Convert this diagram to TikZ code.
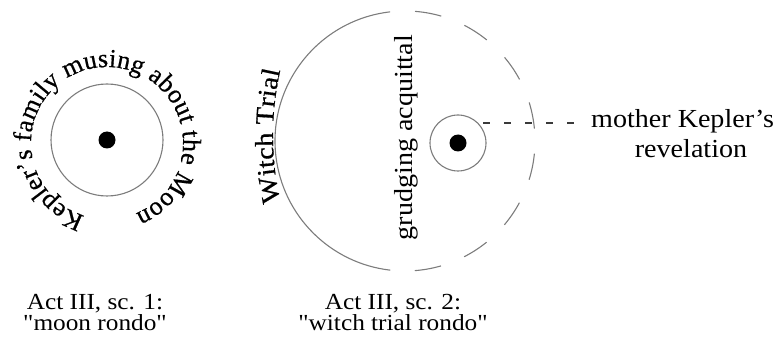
\documentclass[tikz,border=0pt]{standalone}
\usepackage{fontspec}
\setmainfont{Liberation Serif}
\newfontfamily\capfont[FakeStretch=1.1]{Liberation Serif}
\newfontfamily\widefont[FakeStretch=1.08]{Liberation Serif}
\newfontfamily\heavyfont[FakeBold=0.6]{Liberation Serif}
\newfontfamily\heavywidefont[FakeBold=0.6,FakeStretch=1.1]{Liberation Serif}
\newcommand\moonfont{\heavyfont\fontsize{26}{30}\selectfont}
\newcommand\trialfont{\heavywidefont\fontsize{26}{30}\selectfont}
\usetikzlibrary{decorations.text}
\definecolor{ringgray}{HTML}{7C7C7C}
\definecolor{dashgray}{HTML}{3A3A3A}
\begin{document}
\begin{tikzpicture}[x=1pt,y=1pt,
  ring/.style={circle, draw=ringgray, line width=1.1pt, inner sep=0pt},
  ringline/.style={draw=ringgray, line width=1.1pt},
  dot/.style={circle, fill=black, inner sep=0pt, minimum size=17pt},
  captext/.style={font=\capfont\fontsize{23}{21}\selectfont, align=center, inner sep=0pt},
  sidetext/.style={font=\widefont\fontsize{26}{30}\selectfont, inner sep=0pt},
  leader/.style={draw=dashgray, line width=2.2pt, dash pattern=on 6.5pt off 14.5pt, dash phase=16pt}]
\useasboundingbox (0,0) rectangle (775,340);
% left: moon rondo
\node[ring, minimum size=112pt] (lc) at (107,200) {};
\node[dot] (ld) at (107,200) {};
\path[decorate, decoration={text along path, text align={fit to path},
  text={|\moonfont|Kepler’s family musing about the Moon}}]
  (107,197) ++(253:76) arc[start angle=253, end angle=-68, radius=76];
% right: witch trial rondo
\coordinate (bc) at (405,199);
\draw[ringline] (bc) ++(96.6:130) arc[start angle=96.6, end angle=263.5, radius=130];
\draw[ringline, dash pattern=on 26.7pt off 25pt, dash phase=26.7pt]
  (bc) ++(96.6:130) arc[start angle=96.6, end angle=-96.5, radius=130];
\coordinate (wc) at (573,204);
\path[decorate, decoration={text along path, text align=center,
  text={|\trialfont|Witch Trial}}]
  (wc) ++(195:300) arc[start angle=195, end angle=165, radius=300];
\node[sidetext, rotate=90] (ga) at (406,202.5) {grudging acquittal};
\node[ring, minimum size=56pt] (sc) at (458,197) {};
\node[dot] (sd) at (458,197) {};
\node[sidetext, anchor=base west] (mk) at (591,212) {mother Kepler’s};
\node[sidetext, anchor=base] (rev) at (691,182) {revelation};
\draw[leader, shorten >=15pt] (sc.45) -- (sc.45 -| mk.west);
% captions
\node[captext, anchor=base] (cap1) at (95,10) {Act III, sc. 1:\\"moon rondo"};
\node[captext, anchor=base] (cap2) at (393,10) {Act III, sc. 2:\\"witch trial rondo"};
\end{tikzpicture}
\end{document}
